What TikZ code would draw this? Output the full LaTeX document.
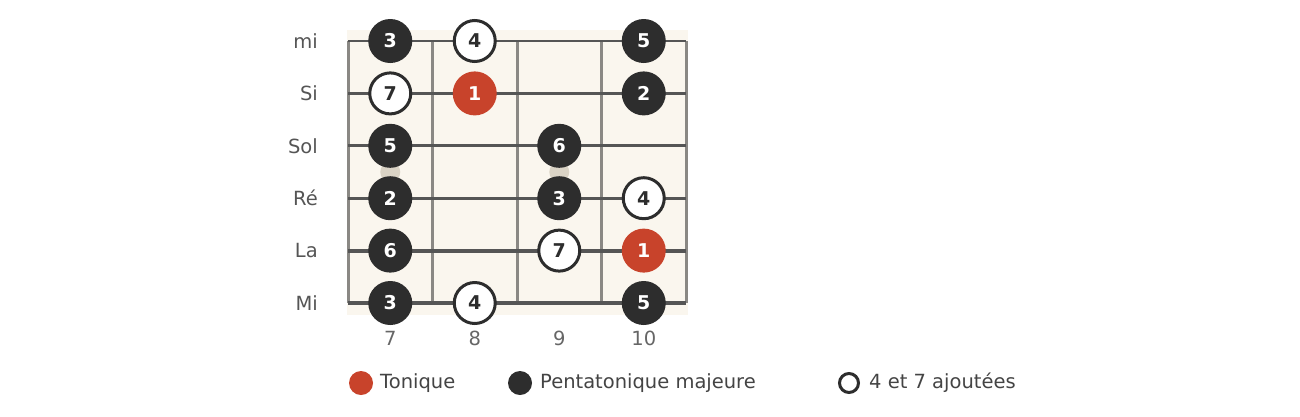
\documentclass[tikz,border=0pt]{standalone}
\usepackage{fontspec}
\setmainfont{DejaVu Sans}
\definecolor{dark}{HTML}{2D2D2D}
\definecolor{tonic}{HTML}{C8432B}
\definecolor{boardbg}{HTML}{FAF6EE}
\definecolor{fretc}{HTML}{8A8884}
\definecolor{stringc}{HTML}{555555}
\definecolor{inlay}{HTML}{DAD3C5}
\definecolor{labc}{HTML}{555555}
\definecolor{numc}{HTML}{666666}
\definecolor{legc}{HTML}{444444}
\tikzset{
  fretline/.style={draw=fretc, line width=3pt},
  strline/.style={draw=stringc},
  notebase/.style={circle, inner sep=0pt, font=\fontsize{19}{19}\selectfont\bfseries},
  pent/.style={notebase, minimum size=44pt, fill=dark, text=white},
  tonicn/.style={notebase, minimum size=44pt, fill=tonic, text=white},
  added/.style={notebase, minimum size=41pt, fill=white, draw=dark, line width=3pt, text=dark},
  strlab/.style={anchor=east, inner sep=0pt, text=labc, font=\fontsize{19.5}{19.5}\selectfont},
  fretlab/.style={text=numc, font=\fontsize{19.5}{19.5}\selectfont},
  legtxt/.style={anchor=west, inner sep=0pt, text=legc, font=\fontsize{19.5}{19.5}\selectfont},
}
\begin{document}
\begin{tikzpicture}[x=1pt,y=-1pt]
\useasboundingbox (0,0) rectangle (1300,416);
\fill[boardbg] (347,30) rectangle (688,315);
% fret lines
\foreach \i/\x in {0/348,1/432.5,2/517,3/601.5,4/686}{
  \coordinate (ft\i) at (\x,41);
  \coordinate (fb\i) at (\x,303);
  \draw[fretline] (ft\i) -- (fb\i);
}
% inlay dots
\fill[inlay] (390.25,172) circle (10);
\fill[inlay] (559.25,172) circle (10);
% strings
\foreach \i/\y/\w/\n in {0/41/2/mi,1/93.4/2.3/Si,2/145.8/2.8/Sol,3/198.2/3.3/Ré,4/250.6/4/La,5/303/4.8/Mi}{
  \coordinate (sl\i) at (348,\y);
  \coordinate (sr\i) at (686,\y);
  \draw[strline, line width=\w pt] (sl\i) -- (sr\i);
  \node[strlab] (lab\i) at (318,\y) {\n};
}
% fret numbers
\foreach \i/\x/\t in {7/390.25/7,8/474.75/8,9/559.25/9,10/643.75/10}{
  \node[fretlab] (fn\i) at (\x,338) {\t};
}
% notes
\node[pent]   (n07)  at (390.25,41) {3};
\node[added]  (n08)  at (474.75,41) {4};
\node[pent]   (n010) at (643.75,41) {5};
\node[added]  (n17)  at (390.25,93.4) {7};
\node[tonicn] (n18)  at (474.75,93.4) {1};
\node[pent]   (n110) at (643.75,93.4) {2};
\node[pent]   (n27)  at (390.25,145.8) {5};
\node[pent]   (n29)  at (559.25,145.8) {6};
\node[pent]   (n37)  at (390.25,198.2) {2};
\node[pent]   (n39)  at (559.25,198.2) {3};
\node[added]  (n310) at (643.75,198.2) {4};
\node[pent]   (n47)  at (390.25,250.6) {6};
\node[added]  (n49)  at (559.25,250.6) {7};
\node[tonicn] (n410) at (643.75,250.6) {1};
\node[pent]   (n57)  at (390.25,303) {3};
\node[added]  (n58)  at (474.75,303) {4};
\node[pent]   (n510) at (643.75,303) {5};
% legend
\node[circle, fill=tonic, minimum size=24pt, inner sep=0pt] (lg1) at (361,383) {};
\node[legtxt] (lt1) at (380,383) {Tonique};
\node[circle, fill=dark, minimum size=24pt, inner sep=0pt] (lg2) at (520,383) {};
\node[legtxt] (lt2) at (540,383) {Pentatonique majeure};
\node[circle, fill=white, draw=dark, line width=3pt, minimum size=19pt, inner sep=0pt] (lg3) at (849,383) {};
\node[legtxt] (lt3) at (869,383) {4 et 7 ajoutées};
\end{tikzpicture}
\end{document}
